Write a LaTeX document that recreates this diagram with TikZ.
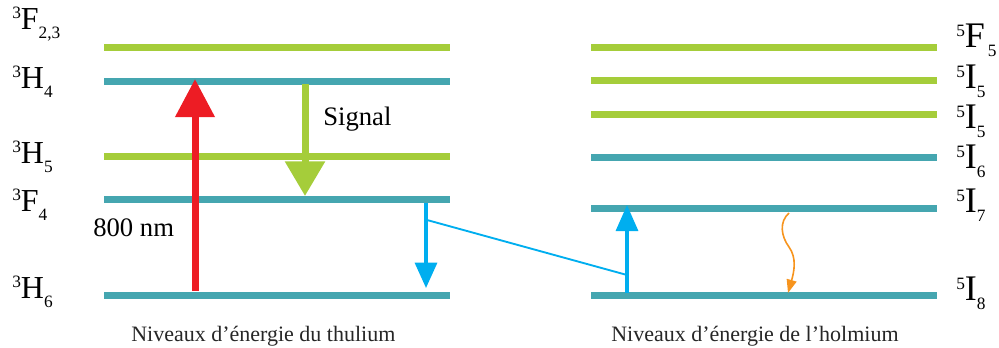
\documentclass[tikz,border=0pt]{standalone}
\usepackage{fontspec}
\setmainfont{Liberation Serif}
\usetikzlibrary{arrows.meta}
\definecolor{teal1}{HTML}{45A6B0}
\definecolor{green1}{HTML}{A5CD3A}
\definecolor{red1}{HTML}{ED1C24}
\definecolor{cyan1}{HTML}{00AEEF}
\definecolor{orange1}{HTML}{F7941D}
\newcommand{\termsym}[3]{{\fontsize{13}{13}\selectfont\raisebox{0.62em}{#1}}#2{\fontsize{13}{13}\selectfont\raisebox{-0.52em}{#3}}}
\tikzset{
  lvlT/.style={line width=5.25pt, draw=teal1},
  lvlG/.style={line width=5.25pt, draw=green1},
  term/.style={anchor=base west, inner sep=0pt, font=\fontsize{24}{24}\selectfont},
  termR/.style={anchor=base west, inner sep=0pt, font=\fontsize{27}{27}\selectfont},
  lab/.style={anchor=base west, inner sep=0pt, font=\fontsize{20}{20}\selectfont},
  captext/.style={anchor=base west, inner sep=0pt, font=\fontsize{16.5}{16.5}\selectfont, text=black!85},
}
\begin{document}
\begin{tikzpicture}[x=0.75pt,y=-0.75pt]
\useasboundingbox (0,0) rectangle (999,347);
% thulium levels
\coordinate (tF23a) at (104,47);  \coordinate (tF23b) at (450,47);
\coordinate (tH4a) at (104,81.5); \coordinate (tH4b) at (450,81.5);
\coordinate (tH5a) at (104,156);  \coordinate (tH5b) at (450,156);
\coordinate (tF4a) at (104,199.5);\coordinate (tF4b) at (450,199.5);
\coordinate (tH6a) at (104,295);  \coordinate (tH6b) at (450,295);
\draw[lvlG] (tF23a) -- (tF23b);
\draw[lvlT] (tH4a) -- (tH4b);
\draw[lvlG] (tH5a) -- (tH5b);
\draw[lvlT] (tF4a) -- (tF4b);
\draw[lvlT] (tH6a) -- (tH6b);
% holmium levels
\coordinate (hF5a) at (591,47);   \coordinate (hF5b) at (937,47);
\coordinate (hI5a) at (591,80);   \coordinate (hI5b) at (937,80);
\coordinate (hI5c) at (591,114);  \coordinate (hI5d) at (937,114);
\coordinate (hI6a) at (591,157);  \coordinate (hI6b) at (937,157);
\coordinate (hI7a) at (591,208);  \coordinate (hI7b) at (937,208);
\coordinate (hI8a) at (591,295);  \coordinate (hI8b) at (937,295);
\draw[lvlG] (hF5a) -- (hF5b);
\draw[lvlG] (hI5a) -- (hI5b);
\draw[lvlG] (hI5c) -- (hI5d);
\draw[lvlT] (hI6a) -- (hI6b);
\draw[lvlT] (hI7a) -- (hI7b);
\draw[lvlT] (hI8a) -- (hI8b);
% arrow end points
\coordinate (r0) at (195,291); \coordinate (r1) at (195,79);
\coordinate (g0) at (305,84);  \coordinate (g1) at (305,196);
\coordinate (b0) at (426,203); \coordinate (b1) at (426,288);
\coordinate (bm) at (427,220); \coordinate (bn) at (627,275);
\coordinate (u0) at (627,293); \coordinate (u1) at (627,205);
\coordinate (o0) at (789,213); \coordinate (o1) at (788,293);
% red pump arrow
\draw[red1, line width=5.25pt, -{Triangle[width=28.5pt,length=28.5pt]}] (r0) -- (r1);
% green signal arrow
\draw[green1, line width=5.25pt, -{Triangle[width=29pt,length=26pt]}] (g0) -- (g1);
% blue arrows
\draw[cyan1, line width=2.4pt, -{Triangle[width=16.5pt,length=19pt]}] (b0) -- (b1);
\draw[cyan1, line width=1.4pt] (bm) -- (bn);
\draw[cyan1, line width=2.4pt, -{Triangle[width=16.5pt,length=19.5pt]}] (u0) -- (u1);
% orange relaxation
\draw[orange1, line width=1.2pt, -{Triangle[width=7.5pt,length=10pt]}] (o0) .. controls (779,222) and (781,236) .. (789,247) .. controls (797,258) and (794,272) .. (o1);
% labels
\node[lab] (sig) at (323,125) {Signal};
\node[lab] (nm) at (93,236) {800 nm};
\node[term] (L1) at (12,29) {\termsym{3}{F}{2,3}};
\node[term] (L2) at (12,88) {\termsym{3}{H}{4}};
\node[term] (L3) at (12,163) {\termsym{3}{H}{5}};
\node[term] (L4) at (12,211) {\termsym{3}{F}{4}};
\node[term] (L5) at (12,298) {\termsym{3}{H}{6}};
\node[termR] (R1) at (956,47) {\termsym{5}{F}{\,5}};
\node[termR] (R2) at (956,88) {\termsym{5}{I}{5}};
\node[termR] (R3) at (956,128) {\termsym{5}{I}{5}};
\node[termR] (R4) at (956,168) {\termsym{5}{I}{6}};
\node[termR] (R5) at (956,212) {\termsym{5}{I}{7}};
\node[termR] (R6) at (956,300) {\termsym{5}{I}{8}};
\node[captext] (c1) at (131,341) {Niveaux d’énergie du thulium};
\node[captext] (c2) at (611,341) {Niveaux d’énergie de l’holmium};
\end{tikzpicture}
\end{document}
